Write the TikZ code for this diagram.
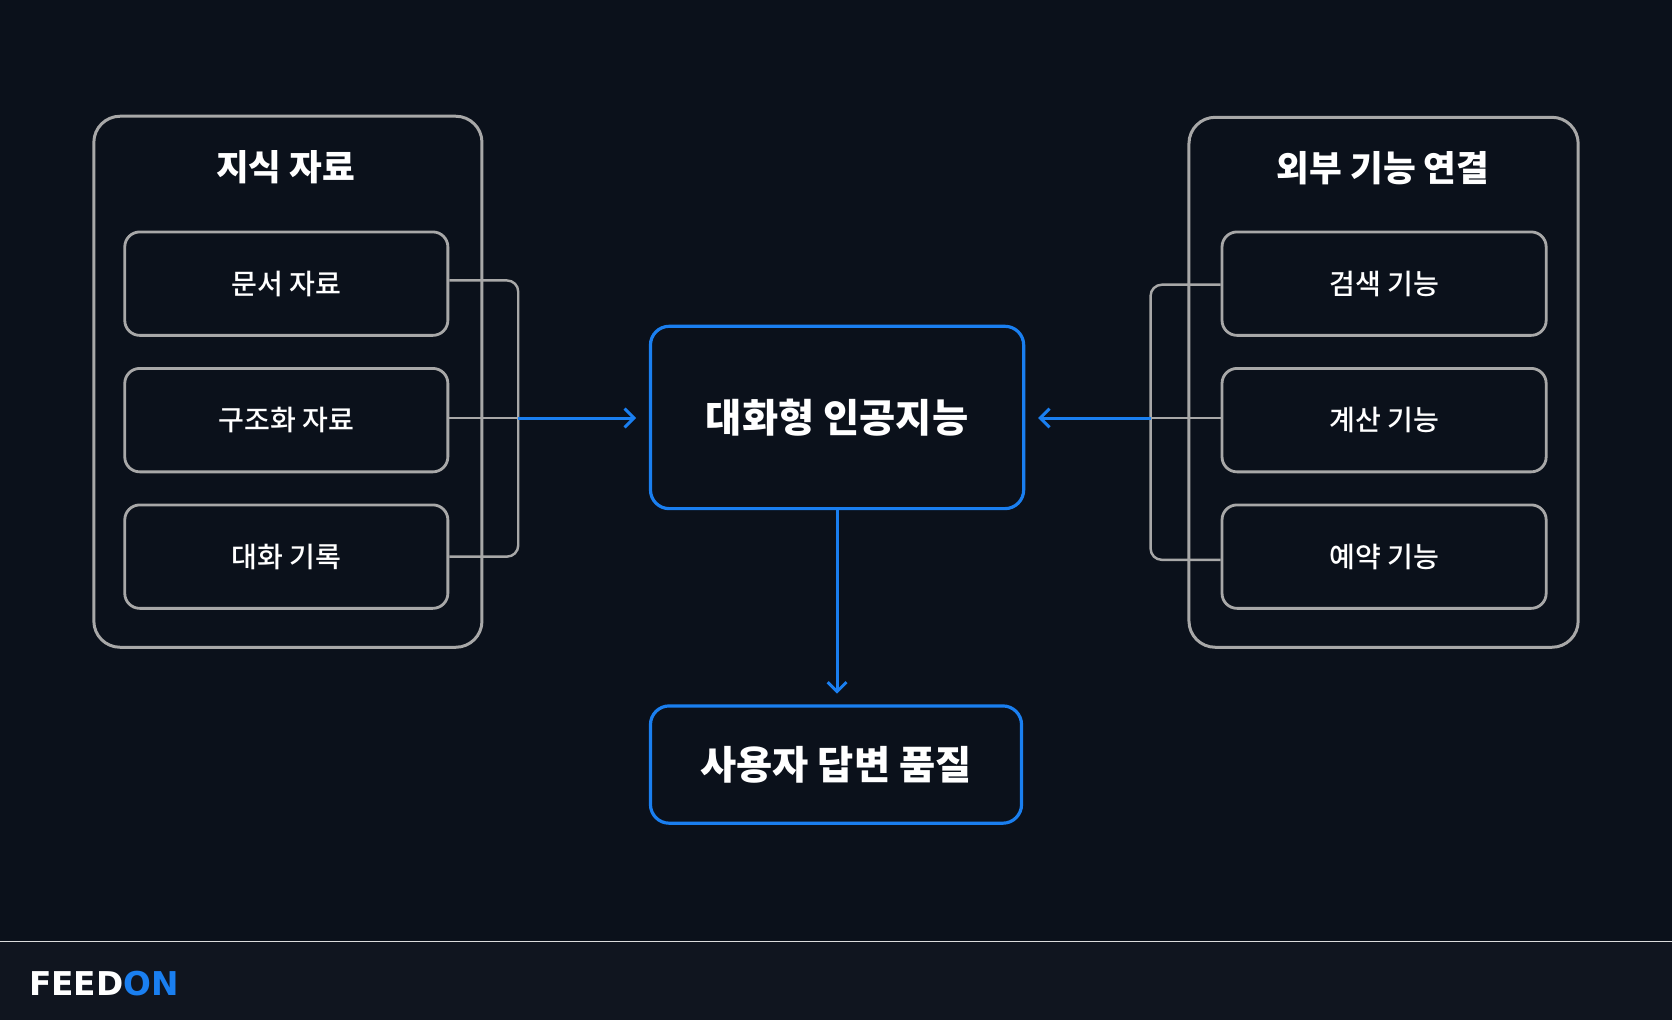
\documentclass[tikz,border=0pt]{standalone}
\usepackage{fontspec}
\setmainfont{Noto Sans CJK KR}
\newfontfamily\logo{DejaVu Sans}
\newfontfamily\med{Noto Sans CJK KR Medium}
\usetikzlibrary{arrows.meta}
\definecolor{bg}{HTML}{0B111B}
\definecolor{foot}{HTML}{10151F}
\definecolor{gry}{HTML}{A8A8A8}
\definecolor{blu}{HTML}{1A7FF0}
\begin{document}
\begin{tikzpicture}[x=0.02cm,y=-0.02cm,
  outer/.style={draw=gry,line width=1.6pt,rounded corners=14pt},
  inner/.style={draw=gry,line width=1.5pt,rounded corners=8pt,text=white,font=\med\fontsize{15}{18}\selectfont},
  main/.style={draw=blu,line width=1.7pt,rounded corners=10pt,text=white,font=\fontsize{21}{24}\selectfont\bfseries},
  title/.style={text=white,font=\fontsize{19}{22}\selectfont\bfseries},
  conn/.style={gry,line width=1.3pt,rounded corners=6pt},
  arr/.style={blu,line width=1.6pt,-{Straight Barb[length=5pt,width=10pt,line width=1.6pt]}}]
\useasboundingbox (0,0) rectangle (1568,957);
\fill[bg] (0,0) rectangle (1568,957);
\fill[foot] (0,883) rectangle (1568,957);
\draw[gry!40,line width=0.4pt] (0,883) -- (1568,883);
\node[anchor=west,font=\logo\fontsize{17.5}{20}\selectfont\bfseries] (logo) at (21,922) {\textcolor{white}{FEED}\textcolor{blu}{ON}};
% left
\node[outer,minimum width=364*0.02cm,minimum height=498*0.02cm] (L) at (270,358) {};
\node[title] (Lt) at (268,157) {지식 자료};
\node[inner,minimum width=303*0.02cm,minimum height=97*0.02cm] (l1) at (268.5,266) {문서 자료};
\node[inner,minimum width=303*0.02cm,minimum height=97*0.02cm] (l2) at (268.5,394) {구조화 자료};
\node[inner,minimum width=303*0.02cm,minimum height=97*0.02cm] (l3) at (268.5,522) {대화 기록};
\coordinate (lb) at (486,392);
\draw[conn] (l1.east |- 0,263) -- (486,263) -- (486,522) -- (l3.east |- 0,522);
\draw[conn] (l2.east |- 0,392) -- (lb);
% center
\node[main,minimum width=350*0.02cm,minimum height=171*0.02cm] (C) at (785,391.5) {대화형 인공지능};
\node[main,minimum width=348*0.02cm,minimum height=110*0.02cm] (B) at (784,717) {사용자 답변 품질};
\draw[arr] (lb) -- ([xshift=-12*0.02cm]C.west |- lb);
% right
\node[outer,minimum width=365*0.02cm,minimum height=497*0.02cm] (R) at (1297.5,358.5) {};
\node[title] (Rt) at (1297,158) {외부 기능 연결};
\node[inner,minimum width=304*0.02cm,minimum height=97*0.02cm] (r1) at (1298,266) {검색 기능};
\node[inner,minimum width=304*0.02cm,minimum height=97*0.02cm] (r2) at (1298,394) {계산 기능};
\node[inner,minimum width=304*0.02cm,minimum height=97*0.02cm] (r3) at (1298,522) {예약 기능};
\coordinate (rb) at (1079,392);
\draw[conn] (r1.west |- 0,267) -- (1079,267) -- (1079,525) -- (r3.west |- 0,525);
\draw[conn] (r2.west |- 0,392) -- (rb);
\draw[arr] (rb) -- ([xshift=12*0.02cm]C.east |- rb);
\draw[arr] (C.south) -- ([yshift=10*0.02cm]C.south |- B.north);
\end{tikzpicture}
\end{document}
